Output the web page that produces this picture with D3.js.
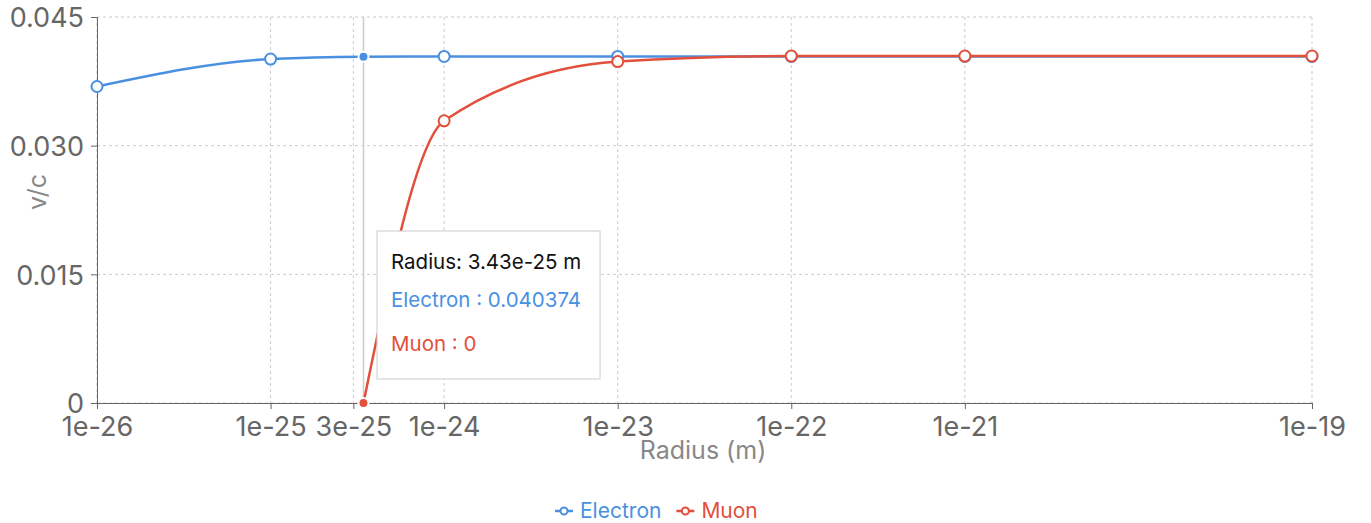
<!DOCTYPE html>
<html>
<head>
<meta charset="utf-8">
<script src="https://cdn.jsdelivr.net/npm/d3@7"></script>
<style>
  html, body { margin: 0; padding: 0; background: #fff; }
  svg { display: block; font-family: Inter, "Helvetica Neue", Helvetica, Arial, sans-serif; }
</style>
</head>
<body>
<svg id="chart" width="1371" height="523"></svg>
<script>
// Data
const radii = [1e-26, 1e-25, 3.43e-25, 1e-24, 1e-23, 1e-22, 1e-21, 1e-19];
const electron = [0.0369, 0.0401, 0.040374, 0.0404, 0.0404, 0.0404, 0.0404, 0.0404];
const muon = [null, null, 0, 0.0329, 0.0398, 0.04045, 0.04045, 0.04045];
const xTicks = [1e-26, 1e-25, 3e-25, 1e-24, 1e-23, 1e-22, 1e-21, 1e-19];
const yTicks = [0, 0.015, 0.03, 0.045];
const activeIndex = 2; // tooltip shown at 3.43e-25

const FONT = "Inter, 'Helvetica Neue', Helvetica, Arial, sans-serif";
const series = [
  { name: "Electron", values: electron, color: "#4a90e2" },
  { name: "Muon", values: muon, color: "#e2503b" }
];

const M = { left: 97, right: 1312, top: 17, bottom: 403 };
const svg = d3.select("#chart");

const x = d3.scaleLog().domain([1e-26, 1e-19]).range([M.left, M.right]);
const y = d3.scaleLinear().domain([0, 0.045]).range([M.bottom, M.top]);

// Grid (dashed)
const grid = svg.append("g").attr("stroke", "#ccc").attr("stroke-dasharray", "3 3");
grid.selectAll("line.h").data(yTicks).join("line")
  .attr("x1", M.left).attr("x2", M.right)
  .attr("y1", d => y(d)).attr("y2", d => y(d));
grid.selectAll("line.v").data(xTicks).join("line")
  .attr("x1", d => x(d)).attr("x2", d => x(d))
  .attr("y1", M.top).attr("y2", M.bottom);

// Axes
const xAxis = svg.append("g")
  .attr("transform", `translate(0,${M.bottom})`)
  .call(d3.axisBottom(x).tickValues(xTicks).tickSize(6).tickPadding(6)
    .tickFormat(d => d.toExponential(0)));
const yAxis = svg.append("g")
  .attr("transform", `translate(${M.left},0)`)
  .call(d3.axisLeft(y).tickValues(yTicks).tickSize(6).tickPadding(7)
    .tickFormat(d => d === 0 ? "0" : d3.format(".3f")(d)));

[xAxis, yAxis].forEach(a => {
  a.attr("font-family", FONT).attr("font-size", 27);
  a.select(".domain").attr("stroke", "#666");
  a.selectAll(".tick line").attr("stroke", "#666");
  a.selectAll(".tick text").attr("fill", "#666");
});
xAxis.selectAll(".tick text").attr("dy", "0.78em");
yAxis.selectAll(".tick text").attr("dy", "0.36em");

// Axis labels
svg.append("text")
  .attr("x", 703).attr("y", 459)
  .attr("text-anchor", "middle").attr("fill", "#888")
  .style("font-size", "25px").text("Radius (m)");
svg.append("text")
  .attr("transform", `translate(46,${(M.top + M.bottom) / 2 - 18}) rotate(-90)`)
  .attr("text-anchor", "middle").attr("fill", "#888")
  .style("font-size", "25px").text("v/c");

// Tooltip cursor
svg.append("line")
  .attr("x1", x(radii[activeIndex])).attr("x2", x(radii[activeIndex]))
  .attr("y1", M.top).attr("y2", M.bottom)
  .attr("stroke", "#ccc").attr("stroke-width", 1.5);

// Lines and dots
const line = d3.line()
  .defined(d => d[1] != null)
  .x(d => x(d[0])).y(d => y(d[1]))
  .curve(d3.curveMonotoneX);

series.forEach(s => {
  const pts = radii.map((r, i) => [r, s.values[i]]).filter(d => d[1] != null);
  const g = svg.append("g");
  g.append("path").datum(pts)
    .attr("d", line).attr("fill", "none")
    .attr("stroke", s.color).attr("stroke-width", 2.5);
  g.selectAll("circle").data(radii.map((r, i) => [r, s.values[i], i]).filter(d => d[1] != null))
    .join("circle")
    .attr("cx", d => x(d[0])).attr("cy", d => y(d[1]))
    .attr("r", d => d[2] === activeIndex ? 5 : 5.5)
    .attr("fill", d => d[2] === activeIndex ? s.color : "#fff")
    .attr("stroke", d => d[2] === activeIndex ? "#fff" : s.color)
    .attr("stroke-width", 2);
});

// Tooltip
const tip = svg.append("g").attr("transform", "translate(377,231)");
tip.append("rect").attr("width", 223).attr("height", 148)
  .attr("fill", "#fff").attr("stroke", "#ccc");
tip.append("text").attr("x", 14).attr("y", 38).attr("fill", "#111")
  .style("font-size", "20.5px")
  .text(`Radius: ${radii[activeIndex].toExponential(2)} m`);
series.forEach((s, i) => {
  tip.append("text").attr("x", 14).attr("y", 76 + i * 44).attr("fill", s.color)
    .style("font-size", "20.5px")
    .text(`${s.name} : ${s.values[activeIndex]}`);
});

// Legend
const legend = svg.append("g").attr("transform", "translate(555,511)");
let lx = 0;
series.forEach(s => {
  const g = legend.append("g").attr("transform", `translate(${lx},0)`);
  g.append("line").attr("x1", 0).attr("x2", 18).attr("y1", 0).attr("y2", 0)
    .attr("stroke", s.color).attr("stroke-width", 2.5);
  g.append("circle").attr("cx", 9).attr("cy", 0).attr("r", 3.5)
    .attr("fill", "#fff").attr("stroke", s.color).attr("stroke-width", 2);
  const t = g.append("text").attr("x", 25).attr("y", 7).attr("fill", s.color)
    .style("font-size", "21px").text(s.name);
  lx += 25 + t.node().getComputedTextLength() + 15;
});
</script>
</body>
</html>
